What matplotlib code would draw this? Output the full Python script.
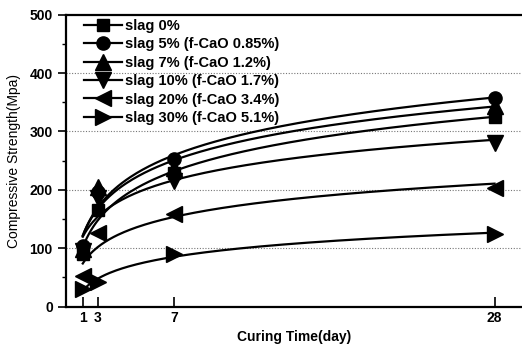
import numpy as np
import matplotlib
matplotlib.use('Agg')
import matplotlib.pyplot as plt
from matplotlib.ticker import MultipleLocator

plt.rcParams['font.family'] = ['Liberation Sans', 'DejaVu Sans']

# curing days as labelled, and where the original puts them on the x axis
day_labels = ['1', '3', '7', '28']
day_pos = [1, 2, 7, 28]

labels = ['slag 0%', 'slag 5% (f-CaO 0.85%)', 'slag 7% (f-CaO 1.2%)',
          'slag 10% (f-CaO 1.7%)', 'slag 20% (f-CaO 3.4%)', 'slag 30% (f-CaO 5.1%)']
markers = ['s', 'o', '^', 'v', '<', '>']
msizes = [9, 9.5, 11, 11, 11, 11]

slag0 = [90, 165, 228, 324]
slag5 = [103, 197, 252, 357]
slag7 = [98, 205, 237, 343]
slag10 = [95, 186, 215, 280]
slag20 = [53, 126, 158, 203]
slag30 = [30, 42, 90, 125]
series = [slag0, slag5, slag7, slag10, slag20, slag30]

fig = plt.figure(figsize=(5.22, 3.45), dpi=100)
ax = fig.add_axes([66/522, 38.5/345, 456/522, 291.8/345])

xs = np.linspace(1, 28, 200)
for vals, mk, ms, lab in zip(series, markers, msizes, labels):
    # logarithmic trend line like the original
    b, a = np.polyfit(np.log(day_pos), vals, 1)
    ax.plot(xs, a + b*np.log(xs), color='black', lw=1.6, zorder=2)
    ax.plot(day_pos, vals, linestyle='none', marker=mk, color='black',
            markersize=ms, zorder=3)
    ax.plot([], [], color='black', lw=1.6, marker=mk, markersize=ms, label=lab)

ax.set_xlim(-0.1, 29.8)
ax.set_ylim(0, 500)
ax.set_xticks(day_pos)
ax.set_xticklabels(day_labels)
ax.yaxis.set_major_locator(MultipleLocator(100))
ax.yaxis.set_minor_locator(MultipleLocator(50))
ax.tick_params(axis='x', direction='in', length=7, width=1.2, labelsize=10, pad=3)
ax.tick_params(axis='y', which='major', direction='out', length=6, width=1.2, labelsize=10)
ax.tick_params(axis='y', which='minor', direction='out', length=3, width=1)
for t in ax.get_xticklabels() + ax.get_yticklabels():
    t.set_fontweight('bold')

for y in [100, 200, 300, 400]:
    ax.axhline(y, color='#777777', lw=0.8, ls=(0, (1, 1.5)), zorder=1)

ax.spines['right'].set_visible(False)
for s in ['left', 'bottom', 'top']:
    ax.spines[s].set_linewidth(1.6)

ax.set_ylabel('Compressive Strength(Mpa)', fontsize=10, labelpad=6)
ax.set_xlabel('Curing Time(day)', fontsize=10, fontweight='bold', labelpad=4)

leg = ax.legend(loc='upper left', bbox_to_anchor=(0.02, 1.015), frameon=False,
                handlelength=2.6, handletextpad=0.2, labelspacing=0.3,
                prop={'weight': 'bold', 'size': 10.5}, borderaxespad=0.2)

fig.savefig('out.png', dpi=100)
